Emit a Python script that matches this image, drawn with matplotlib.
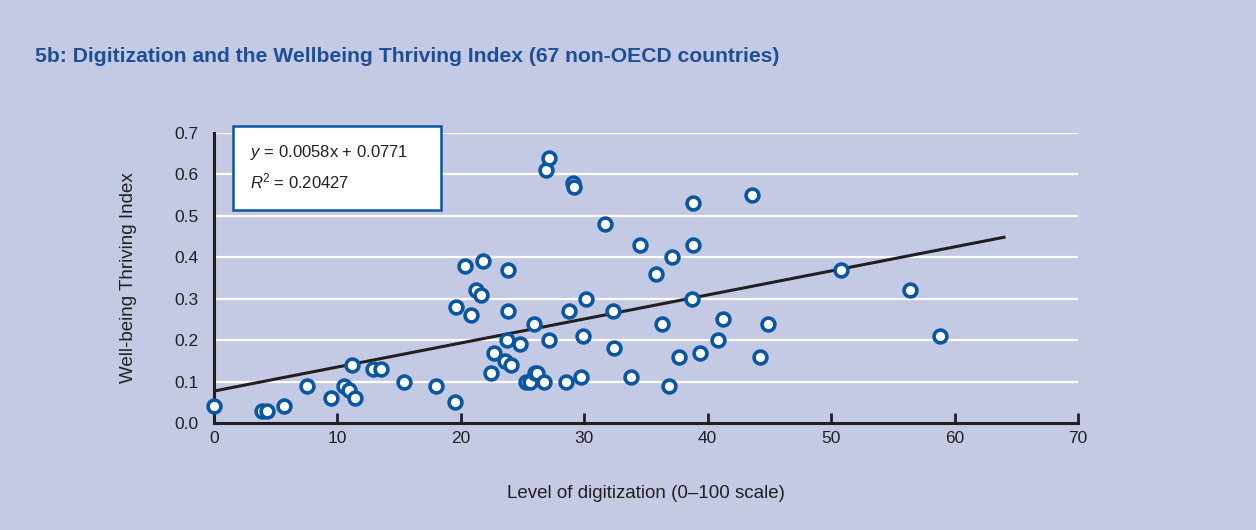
import matplotlib
matplotlib.use("Agg")
import matplotlib.pyplot as plt
from matplotlib.patches import Rectangle

# level of digitization (0-100) and well-being thriving index, 67 non-OECD countries
digitization = [0.0, 3.9, 4.3, 5.7, 7.5, 9.5, 10.5, 10.9, 11.4, 11.2,
                12.9, 13.5, 15.4, 18.0, 19.5, 19.6, 20.3, 20.8, 21.2, 21.6,
                21.8, 22.4, 22.7, 23.6, 24.1, 23.7, 23.8, 23.8, 24.8, 25.3,
                25.6, 25.9, 26.0, 26.2, 26.7, 26.9, 27.1, 27.1, 28.5, 28.8,
                29.1, 29.2, 29.7, 29.9, 30.1, 31.7, 32.3, 32.4, 33.8, 34.5,
                35.8, 36.3, 36.9, 37.1, 37.7, 38.8, 38.8, 38.7, 39.4, 40.8,
                41.2, 43.6, 44.2, 44.9, 50.8, 56.4, 58.8]
thriving = [0.04, 0.03, 0.03, 0.04, 0.09, 0.06, 0.09, 0.08, 0.06, 0.14,
            0.13, 0.13, 0.10, 0.09, 0.05, 0.28, 0.38, 0.26, 0.32, 0.31,
            0.39, 0.12, 0.17, 0.15, 0.14, 0.20, 0.27, 0.37, 0.19, 0.10,
            0.10, 0.24, 0.12, 0.12, 0.10, 0.61, 0.64, 0.20, 0.10, 0.27,
            0.58, 0.57, 0.11, 0.21, 0.30, 0.48, 0.27, 0.18, 0.11, 0.43,
            0.36, 0.24, 0.09, 0.40, 0.16, 0.53, 0.43, 0.30, 0.17, 0.20,
            0.25, 0.55, 0.16, 0.24, 0.37, 0.32, 0.21]

slope = 0.0058
intercept = 0.0771
r2 = 0.20427
trend_x = [0, 64]

x_ticks = [0, 10, 20, 30, 40, 50, 60, 70]
y_ticks = [0.0, 0.1, 0.2, 0.3, 0.4, 0.5, 0.6, 0.7]

bg = "#c4cae3"
blue = "#0a56a0"
title_blue = "#1d4f96"
dark = "#231f20"

plt.rcParams["font.family"] = ["Liberation Sans", "DejaVu Sans"]
plt.rcParams["mathtext.fontset"] = "custom"
plt.rcParams["mathtext.it"] = "Liberation Sans:italic"
plt.rcParams["mathtext.rm"] = "Liberation Sans"

fig = plt.figure(figsize=(12.56, 5.30), dpi=100, facecolor=bg)
ax = fig.add_axes([0.1704, 0.2019, 0.6879, 0.5472])
ax.set_facecolor(bg)

for yv in y_ticks[1:]:
    ax.axhline(yv, color="white", lw=1.6, zorder=1)

ax.plot(trend_x, [slope * v + intercept for v in trend_x], color=dark, lw=2.2, zorder=2)
ax.scatter(digitization, thriving, s=85, facecolor="white", edgecolor=blue,
           linewidth=2.6, zorder=3, clip_on=False)

ax.set_xlim(0, 70)
ax.set_ylim(0, 0.7)
ax.set_xticks(x_ticks)
ax.set_yticks(y_ticks)
ax.set_yticklabels([f"{v:.1f}" for v in y_ticks])
ax.tick_params(axis="x", direction="in", length=7, width=2, color=dark,
               labelsize=12.5, labelcolor=dark, pad=6)
ax.tick_params(axis="y", length=0, labelsize=12.5, labelcolor=dark, pad=11)

for s in ["top", "right"]:
    ax.spines[s].set_visible(False)
for s in ["left", "bottom"]:
    ax.spines[s].set_color(dark)
    ax.spines[s].set_linewidth(2.2)

ax.set_xlabel("Level of digitization (0–100 scale)", fontsize=13.5, color=dark, labelpad=28)
ax.set_ylabel("Well-being Thriving Index", fontsize=13.5, color=dark, labelpad=27)

# equation box
box = Rectangle((233 / 1256, 1 - 210 / 530), 208 / 1256, 84 / 530, transform=fig.transFigure,
                facecolor="white", edgecolor=blue, lw=1.8, zorder=5)
fig.patches.append(box)
fig.text(250 / 1256, 1 - 153 / 530, r"$y$ = 0.0058x + 0.0771", fontsize=12, color=dark,
         va="center", zorder=6)
fig.text(250 / 1256, 1 - 181 / 530, r"$R$$^2$ = " + f"{r2}", fontsize=12, color=dark,
         va="center", zorder=6)

fig.text(35 / 1256, 1 - 57 / 530,
         "5b: Digitization and the Wellbeing Thriving Index (67 non-OECD countries)",
         fontsize=15.2, fontweight="bold", color=title_blue, va="center")

fig.savefig("out.png", dpi=100, facecolor=bg)
